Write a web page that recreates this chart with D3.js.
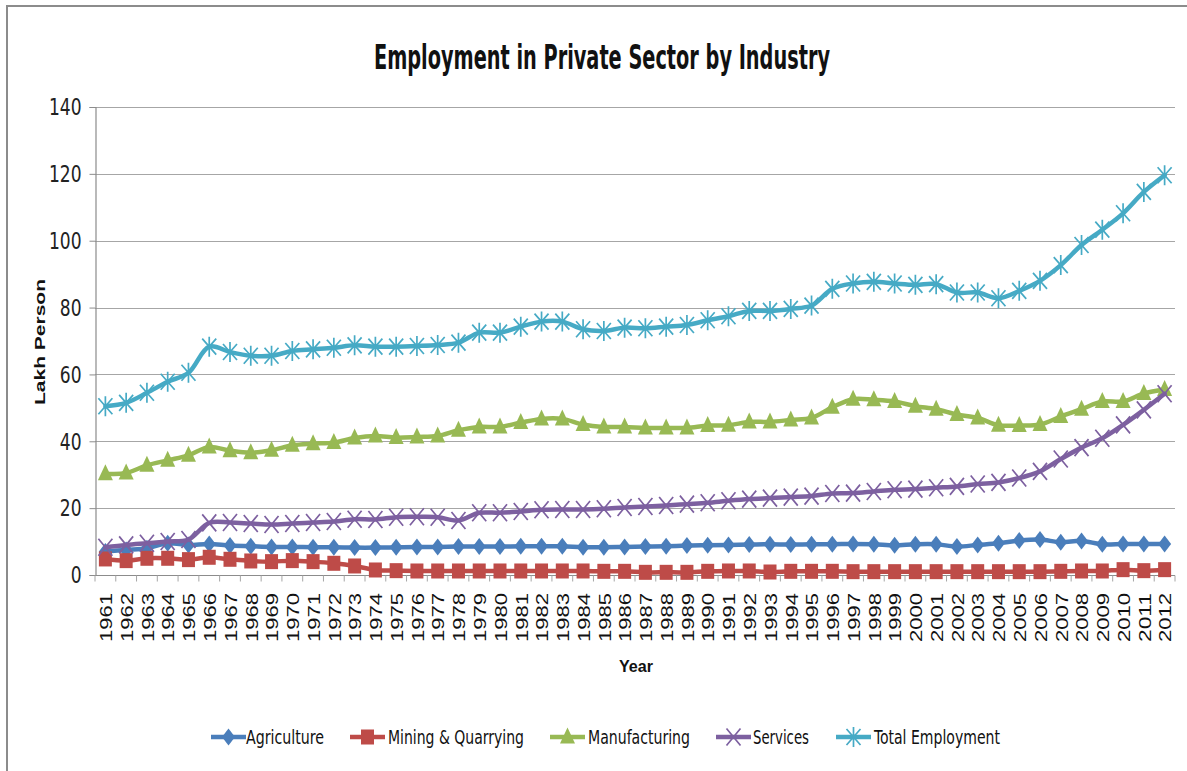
<!DOCTYPE html>
<html>
<head>
<meta charset="utf-8">
<script src="https://cdn.jsdelivr.net/npm/d3@7"></script>
<style>
  html, body { margin: 0; padding: 0; background: #fff; }
  svg { display: block; }
</style>
</head>
<body>
<svg id="chart" width="1187" height="771"></svg>
<script>
// Employment in private sector by industry, lakh persons, 1961-2012
const years = d3.range(1961, 2013).map(String);

const agriculture = [7.0, 7.5, 8.0, 9.5, 9.0, 9.3, 8.8, 8.6, 8.4, 8.4, 8.3, 8.3, 8.2, 8.2, 8.3, 8.4, 8.4, 8.5, 8.5, 8.5,
  8.6, 8.6, 8.6, 8.3, 8.3, 8.4, 8.5, 8.6, 8.8, 8.9, 9.0, 9.1, 9.2, 9.1, 9.2, 9.2, 9.3, 9.2, 8.9, 9.2,
  9.2, 8.5, 9.0, 9.5, 10.3, 10.6, 9.8, 10.2, 9.2, 9.3, 9.3, 9.3];

const mining = [4.8, 4.3, 5.0, 5.0, 4.6, 5.3, 4.7, 4.2, 4.0, 4.3, 4.0, 3.5, 2.7, 1.5, 1.3, 1.2, 1.2, 1.2, 1.2, 1.2,
  1.2, 1.2, 1.2, 1.2, 1.1, 1.1, 0.8, 0.8, 0.8, 1.1, 1.2, 1.2, 0.9, 1.1, 1.1, 1.1, 1.0, 1.0, 1.0, 1.0,
  1.0, 1.0, 1.0, 1.0, 1.0, 1.0, 1.1, 1.2, 1.2, 1.6, 1.3, 1.6];

const manufacturing = [30.3, 30.5, 32.8, 34.3, 35.8, 38.3, 37.2, 36.6, 37.3, 38.8, 39.3, 39.6, 41.0, 41.6, 41.1, 41.3, 41.6, 43.3, 44.3, 44.3,
  45.6, 46.7, 46.7, 45.0, 44.3, 44.3, 44.0, 44.0, 44.0, 44.7, 44.8, 45.8, 45.8, 46.4, 47.0, 50.2, 52.6, 52.4, 51.9, 50.5,
  49.6, 48.0, 47.0, 44.8, 44.7, 45.0, 47.4, 49.6, 51.9, 51.9, 54.3, 55.5];

const services = [8.3, 9.0, 9.5, 10.0, 10.6, 15.6, 15.7, 15.4, 15.1, 15.4, 15.7, 16.0, 16.7, 16.6, 17.3, 17.4, 17.3, 16.3, 18.6, 18.6,
  19.0, 19.5, 19.6, 19.6, 19.8, 20.2, 20.5, 20.8, 21.2, 21.6, 22.2, 22.7, 23.0, 23.3, 23.6, 24.4, 24.5, 25.0, 25.5, 25.7,
  26.1, 26.5, 27.2, 27.7, 29.0, 31.0, 34.7, 38.1, 40.9, 44.9, 49.4, 54.2];

const totalEmployment = [50.5, 51.5, 54.5, 57.8, 60.5, 68.3, 66.7, 65.6, 65.6, 67.0, 67.5, 68.0, 68.7, 68.3, 68.3, 68.5, 68.8, 69.5, 72.5, 72.5,
  74.3, 75.8, 75.8, 73.5, 73.0, 74.0, 73.8, 74.3, 74.8, 76.2, 77.4, 79.0, 79.0, 79.6, 80.6, 85.6, 87.2, 87.7, 87.2, 86.8,
  87.0, 84.5, 84.5, 82.8, 85.0, 88.0, 92.7, 98.7, 103.3, 108.2, 114.6, 119.6];

const seriesNames = ["Agriculture", "Mining & Quarrying", "Manufacturing", "Services", "Total Employment"];
const yTicks = [0, 20, 40, 60, 80, 100, 120, 140];

const chartTitle = "Employment in Private Sector by Industry";
const xTitle = "Year";
const yTitle = "Lakh Person";

// ---- styling ----
const colors = ["#4A7EBB", "#BE4B48", "#98B954", "#7D60A0", "#46AAC5"];
const markerKinds = ["diamond", "square", "triangle", "cross", "star"];
const narrow = "'Liberation Sans Narrow', 'DejaVu Sans Condensed', 'Arial Narrow', sans-serif";
const arial = "'Liberation Sans', Arial, sans-serif";

const svg = d3.select("#chart");
const W = 1187, H = 771;
const plot = { left: 95, right: 1175, top: 107, bottom: 575 };

// outer frame (left and top edges are visible)
svg.append("path")
  .attr("d", `M7,${H} L7,6 L${W},6`)
  .attr("fill", "none")
  .attr("stroke", "#8C8C8C")
  .attr("stroke-width", 2);

const x = d3.scaleBand().domain(years).range([plot.left, plot.right]).paddingInner(0).paddingOuter(0);
const cx = d => x(d) + x.bandwidth() / 2;
const y = d3.scaleLinear().domain([0, 140]).range([plot.bottom, plot.top]);

// gridlines
svg.append("g")
  .selectAll("line")
  .data(yTicks.filter(t => t > 0))
  .join("line")
  .attr("x1", plot.left).attr("x2", plot.right)
  .attr("y1", d => Math.round(y(d)) + 0.5).attr("y2", d => Math.round(y(d)) + 0.5)
  .attr("stroke", "#A6A6A6").attr("stroke-width", 1.2);

// y axis
const yAxis = svg.append("g")
  .attr("transform", `translate(${plot.left + 0.5},0)`)
  .call(d3.axisLeft(y).tickValues(yTicks).tickSize(6).tickPadding(8));
yAxis.select(".domain").attr("stroke", "#8C8C8C").attr("stroke-width", 1.2);
yAxis.selectAll(".tick line").attr("stroke", "#8C8C8C");
yAxis.selectAll(".tick text")
  .attr("font-family", narrow).attr("font-size", 19).attr("fill", "#222")
  .attr("dy", "0.34em")
  .attr("transform", "scale(1,1.2)");

// x axis: ticks between categories
const xAxisG = svg.append("g").attr("transform", `translate(0,${plot.bottom + 0.5})`);
xAxisG.append("line")
  .attr("x1", plot.left).attr("x2", plot.right)
  .attr("stroke", "#8C8C8C").attr("stroke-width", 1.2);
xAxisG.selectAll("line.tk")
  .data(years.concat(["end"]))
  .join("line")
  .attr("class", "tk")
  .attr("x1", (d, i) => i < years.length ? x(d) : plot.right)
  .attr("x2", (d, i) => i < years.length ? x(d) : plot.right)
  .attr("y1", 0).attr("y2", 6)
  .attr("stroke", "#A6A6A6");

svg.append("g")
  .selectAll("text")
  .data(years)
  .join("text")
  .attr("transform", d => `translate(${cx(d) + 1},${plot.bottom + 18}) rotate(-90)`)
  .attr("text-anchor", "end")
  .attr("dy", "0.36em")
  .attr("font-family", arial).attr("font-size", 16).attr("fill", "#111")
  .attr("textLength", 49).attr("lengthAdjust", "spacingAndGlyphs")
  .text(d => d);

// titles
svg.append("text")
  .attr("x", 602).attr("y", 69)
  .attr("text-anchor", "middle")
  .attr("font-family", narrow).attr("font-weight", "bold").attr("font-size", 33)
  .attr("fill", "#111")
  .attr("textLength", 456).attr("lengthAdjust", "spacingAndGlyphs")
  .text(chartTitle);

svg.append("text")
  .attr("x", 636).attr("y", 672)
  .attr("text-anchor", "middle")
  .attr("font-family", arial).attr("font-weight", "bold").attr("font-size", 16)
  .attr("fill", "#111")
  .attr("textLength", 34).attr("lengthAdjust", "spacingAndGlyphs")
  .text(xTitle);

svg.append("text")
  .attr("transform", "translate(45,342) rotate(-90)")
  .attr("text-anchor", "middle")
  .attr("font-family", arial).attr("font-weight", "bold").attr("font-size", 15)
  .attr("fill", "#111")
  .attr("textLength", 126).attr("lengthAdjust", "spacingAndGlyphs")
  .text(yTitle);

// marker shapes
function drawMarker(g, kind, color) {
  if (kind === "diamond") {
    g.append("path").attr("d", "M0,-8.5 L6.5,0 L0,8.5 L-6.5,0 Z").attr("fill", color);
  } else if (kind === "square") {
    g.append("rect").attr("x", -6.5).attr("y", -7.5).attr("width", 13).attr("height", 15).attr("fill", color);
  } else if (kind === "triangle") {
    g.append("path").attr("d", "M0,-9.5 L7.5,6.5 L-7.5,6.5 Z").attr("fill", color);
  } else if (kind === "cross") {
    g.append("path").attr("d", "M-7,-8.5 L7,8.5 M-7,8.5 L7,-8.5")
      .attr("stroke", color).attr("stroke-width", 1.7).attr("fill", "none");
  } else if (kind === "star") {
    g.append("path").attr("d", "M-7,-8 L7,8 M-7,8 L7,-8 M0,-10 L0,10")
      .attr("stroke", color).attr("stroke-width", 1.7).attr("fill", "none");
  }
}

const seriesValues = [agriculture, mining, manufacturing, services, totalEmployment];

const line = d3.line()
  .x((d, i) => cx(years[i]))
  .y(d => y(d))
  .curve(d3.curveCatmullRom.alpha(0.5));

seriesValues.forEach((vals, s) => {
  const g = svg.append("g").attr("class", "series");
  g.append("path")
    .attr("d", line(vals))
    .attr("fill", "none")
    .attr("stroke", colors[s])
    .attr("stroke-width", 4.5)
    .attr("stroke-linejoin", "round")
    .attr("stroke-linecap", "round");
  vals.forEach((v, i) => {
    const m = g.append("g").attr("transform", `translate(${cx(years[i])},${y(v)})`);
    drawMarker(m, markerKinds[s], colors[s]);
  });
});

// legend
const legendItems = [
  { x: 211, tx: 246 },
  { x: 350, tx: 388 },
  { x: 550, tx: 588 },
  { x: 716, tx: 753 },
  { x: 836, tx: 874 }
];
const legendWidths = [78, 136, 102, 56, 126];
const legendY = 737;
const lg = svg.append("g");
legendItems.forEach((it, s) => {
  lg.append("line")
    .attr("x1", it.x).attr("x2", it.x + 35)
    .attr("y1", legendY).attr("y2", legendY)
    .attr("stroke", colors[s]).attr("stroke-width", 4.5);
  const m = lg.append("g").attr("transform", `translate(${it.x + 17.5},${legendY})`);
  drawMarker(m, markerKinds[s], colors[s]);
  lg.append("text")
    .attr("x", it.tx).attr("y", legendY)
    .attr("dy", "0.36em")
    .attr("font-family", narrow).attr("font-size", 20).attr("fill", "#111")
    .attr("textLength", legendWidths[s]).attr("lengthAdjust", "spacingAndGlyphs")
    .text(seriesNames[s]);
});
</script>
</body>
</html>
